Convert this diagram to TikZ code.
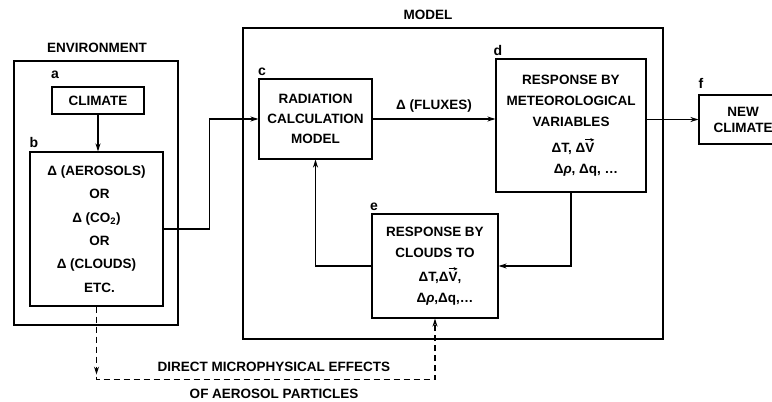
\documentclass[tikz,border=0pt]{standalone}
\usepackage{fontspec}
\setmainfont{Liberation Sans}
\usetikzlibrary{arrows.meta,decorations.markings}
\newcommand\myvecV{\ooalign{V\cr\hidewidth\tikz[baseline=0pt,x=1pt,y=1pt]\draw[line width=0.9pt,-{Stealth[length=4pt,width=3.5pt]}] (0,12.5) -- (9,12.5);\hidewidth\cr}}
\begin{document}
\begin{tikzpicture}[x=1pt,y=-1pt,
  lw/.style={line width=1.1pt},
  txt/.style={font=\fontsize{13.5}{#1}\selectfont\bfseries},
  txt/.default=16,
  box/.style={draw,lw,inner sep=0pt,align=center},
  frame/.style={draw,lw,inner sep=0pt},
  lbl/.style={inner sep=0pt,font=\fontsize{14}{16}\selectfont\bfseries},
  arr/.style={lw,-{Stealth[length=8pt,width=5pt]}},
  dline/.style={lw,dash pattern=on 6pt off 4pt}]
\useasboundingbox (0,0) rectangle (772,402);
% frames
\node[frame,minimum width=164pt,minimum height=264pt] (env) at (96,193) {};
\node[frame,minimum width=420pt,minimum height=311pt] (model) at (453,183.5) {};
\node[txt] (envt) at (97,48) {ENVIRONMENT};
\node[txt] (modt) at (428,15) {MODEL};
% boxes
\node[box,txt,minimum width=92pt,minimum height=27pt] (a) at (98,100.5) {CLIMATE};
\node[box,txt=23.4,minimum width=133pt,minimum height=154pt] (b) at (96.5,229)
  {Δ (AEROSOLS)\\\hspace*{6pt}OR\\Δ (CO\textsubscript{2})\\\hspace*{6pt}OR\\Δ (CLOUDS)\\\hspace*{6pt}ETC.};
\node[box,txt=20,minimum width=113pt,minimum height=80pt] (c) at (315.5,119)
  {RADIATION\\CALCULATION\\MODEL};
\node[box,txt=21,minimum width=150pt,minimum height=133pt] (d) at (571,125.5)
  {RESPONSE BY\\METEOROLOGICAL\\VARIABLES\\[5pt]\hspace*{4pt}ΔT, Δ\myvecV\\\hspace*{30pt}Δ\textit{ρ}, Δq, \dots};
\node[box,txt=21,minimum width=126pt,minimum height=104pt] (e) at (435,266)
  {RESPONSE BY\\CLOUDS TO\\[3pt]\hspace*{10pt}ΔT,Δ\myvecV,\\\hspace*{20pt}Δ\textit{ρ},Δq,\dots};
\node[box,txt=16,minimum width=88pt,minimum height=49pt] (f) at (743,119.5)
  {NEW\\CLIMATE};
% letters
\node[lbl] (la) at (55,75) {a};
\node[lbl] (lb) at (34,142) {b};
\node[lbl] (lc) at (262,72) {c};
\node[lbl] (ld) at (498,50) {d};
\node[lbl] (le) at (374,207) {e};
\node[lbl] (lf) at (701,83) {f};
% connectors
\draw[arr] (a.south) -- (a.south |- b.north);
\draw[arr] (b.east) -- ++(46,0) |- (c.west);
\draw[arr] (c.east) -- node[txt,above=3pt] (flux) {Δ (FLUXES)} (c.east -| d.west);
\draw[arr] (d.east |- f.west) -- (f.west);
\draw[arr] (d.south) |- (e.east);
\draw[arr] (e.west) -| (c.south);
\draw[dline,-{Stealth[length=8pt,width=5pt]},
  postaction={decorate},
  decoration={markings,mark=at position 68pt with {\arrow[line width=1.1pt]{Stealth[length=8pt,width=5pt]}}}]
  (b.south) -- ++(0,73) coordinate (corner) -| (e.south);
\node[txt] (t1) at (274,367) {DIRECT MICROPHYSICAL EFFECTS};
\node[txt] (t2) at (274,394) {OF AEROSOL PARTICLES};
\end{tikzpicture}
\end{document}
